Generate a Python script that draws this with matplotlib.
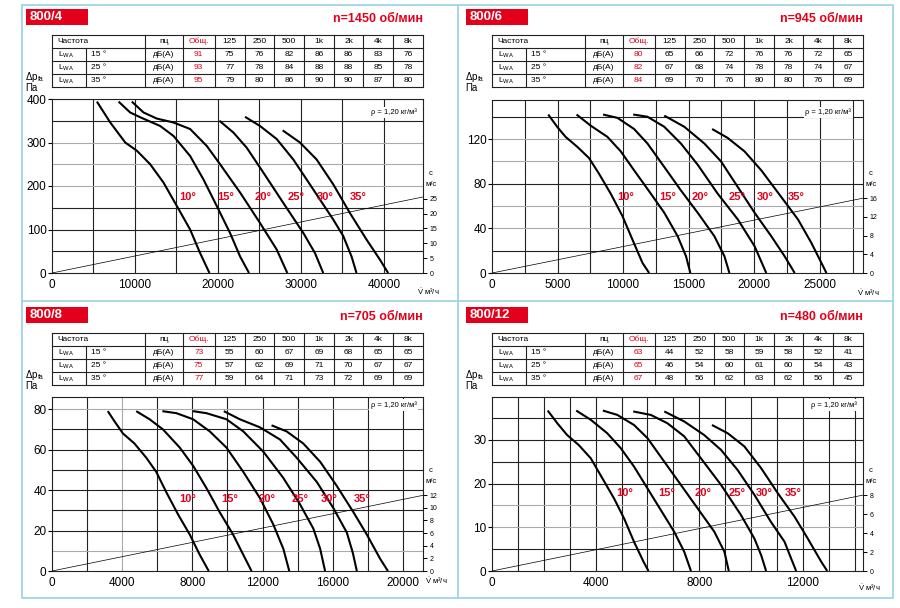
import numpy as np
import matplotlib
matplotlib.use('Agg')
import matplotlib.pyplot as plt
from matplotlib.lines import Line2D
from matplotlib.patches import Rectangle

plt.rcParams['font.family'] = ['Liberation Sans', 'DejaVu Sans']
plt.rcParams['mathtext.fontset'] = 'custom'
plt.rcParams['mathtext.rm'] = 'Liberation Sans'
plt.rcParams['mathtext.it'] = 'Liberation Sans:italic'
plt.rcParams['mathtext.bf'] = 'Liberation Sans:bold'

RED = '#e2001a'
BLUE = '#9fd6e6'
NARROW = ['Liberation Sans Narrow', 'Liberation Sans', 'DejaVu Sans']

# ---------------- данные ----------------
angles = ['10°', '15°', '20°', '25°', '30°', '35°']
bands = ['125', '250', '500', '1k', '2k', '4k', '8k']
row_angles = ['15 °', '25 °', '35 °']

# 800/4, n = 1450
lwa_800_4 = [91, 93, 95]
bands_800_4 = [[75, 76, 82, 86, 86, 83, 76],
               [77, 78, 84, 88, 88, 85, 78],
               [79, 80, 86, 90, 90, 87, 80]]
curves_800_4 = {
    '10°': ([5410, 7020, 8820, 10230, 11830, 13430, 15040, 16640, 17840, 18970],
            [394, 346, 300, 281, 250, 208, 154, 100, 46, 0]),
    '15°': ([8020, 9420, 10630, 13030, 14640, 16640, 18250, 19850, 21450, 22660, 23740],
            [394, 369, 358, 338, 315, 269, 215, 154, 92, 38, 0]),
    '20°': ([9620, 11030, 12630, 14640, 16640, 18650, 20250, 22660, 25060, 27070, 28350],
            [394, 369, 355, 346, 331, 292, 250, 185, 115, 54, 0]),
    '25°': ([20170, 21850, 23460, 25460, 27870, 30280, 31680, 32680],
            [350, 323, 288, 231, 161, 92, 46, 0]),
    '30°': ([23260, 25060, 27070, 29070, 31480, 33880, 35090, 36090, 36690],
            [359, 338, 308, 261, 192, 123, 85, 38, 0]),
    '35°': ([27790, 29870, 31880, 33880, 35890, 37890, 39500, 40500],
            [328, 300, 261, 204, 138, 77, 31, 0]),
}
label_v_800_4 = [16360, 20930, 25460, 29470, 32880, 36890]
label_p_800_4 = 175
vel_line_800_4 = ([0, 44700], [0, 25.6])

# 800/6, n = 945
lwa_800_6 = [80, 82, 84]
bands_800_6 = [[65, 66, 72, 76, 76, 72, 65],
               [67, 68, 74, 78, 78, 74, 67],
               [69, 70, 76, 80, 80, 76, 69]]
curves_800_6 = {
    '10°': ([4290, 4970, 5610, 6510, 7400, 8160, 9060, 9950, 10710, 11480, 11990],
            [142, 131, 122, 113, 103, 89, 71, 51, 30, 9, 0]),
    '15°': ([6450, 7530, 8800, 9820, 10840, 12120, 13140, 14160, 14800, 15130],
            [142, 132, 122, 109, 92, 71, 54, 33, 15, 0]),
    '20°': ([8470, 9570, 10840, 11860, 13140, 14410, 15690, 16960, 17730, 18110],
            [142, 139, 129, 116, 95, 74, 54, 33, 15, 0]),
    '25°': ([10770, 11860, 13140, 14410, 15690, 17220, 18750, 20030, 20920],
            [142, 140, 131, 116, 97, 71, 48, 24, 0]),
    '30°': ([13140, 14670, 16200, 17470, 18750, 20030, 21300, 22320, 23090],
            [141, 131, 116, 100, 77, 54, 33, 15, 0]),
    '35°': ([16790, 17980, 19260, 20540, 22070, 23340, 24360, 25130, 25510],
            [129, 121, 109, 92, 68, 48, 27, 9, 0]),
}
label_v_800_6 = [10200, 13390, 15890, 18700, 20840, 23210]
label_p_800_6 = 68
vel_line_800_6 = ([0, 28300], [0, 16.0])

# 800/8, n = 705
lwa_800_8 = [73, 75, 77]
bands_800_8 = [[55, 60, 67, 69, 68, 65, 65],
               [57, 62, 69, 71, 70, 67, 67],
               [59, 64, 71, 73, 72, 69, 69]]
curves_800_8 = {
    '10°': ([3180, 3560, 4040, 4700, 5370, 5940, 6510, 7180, 7850, 8420, 8930],
            [79, 74, 68, 63, 56, 49, 39, 28, 18, 8, 0]),
    '15°': ([4800, 5560, 6320, 7280, 8040, 8800, 9560, 10320, 10900, 11370],
            [79, 75, 70, 61, 52, 41, 29, 18, 8, 0]),
    '20°': ([6290, 7090, 8040, 8990, 9940, 10900, 11850, 12610, 13180, 13520],
            [79, 78, 75, 69, 61, 49, 36, 23, 11, 0]),
    '25°': ([8040, 8800, 9940, 10900, 12040, 13180, 14130, 14890, 15280, 15560],
            [79, 78, 75, 69, 59, 46, 33, 21, 11, 0]),
    '30°': ([9790, 10700, 11850, 12990, 13940, 15090, 16040, 16800, 17140, 17370],
            [79, 75, 71, 65, 56, 44, 31, 19, 9, 0]),
    '35°': ([12510, 13370, 14320, 15280, 16230, 17180, 17940, 18700, 19140],
            [72, 69, 63, 54, 42, 29, 18, 6, 0]),
}
label_v_800_8 = [7710, 10130, 12230, 14130, 15790, 17700]
label_p_800_8 = 35.5
vel_line_800_8 = ([0, 21140], [0, 11.95])

# 800/12, n = 480
lwa_800_12 = [63, 65, 67]
bands_800_12 = [[44, 52, 58, 59, 58, 52, 41],
                [46, 54, 60, 61, 60, 54, 43],
                [48, 56, 62, 63, 62, 56, 45]]
curves_800_12 = {
    '10°': ([2150, 2520, 2900, 3350, 3810, 4260, 4710, 5100, 5480, 5850, 6040],
            [36.7, 33.8, 31.1, 28.8, 25.8, 21.2, 16.6, 12.0, 6.7, 2.1, 0]),
    '15°': ([3250, 3810, 4450, 4970, 5480, 6000, 6520, 7030, 7420, 7680],
            [36.7, 34.6, 31.5, 28.1, 23.9, 18.9, 13.9, 9.0, 4.4, 0]),
    '20°': ([4280, 4840, 5480, 6000, 6650, 7290, 7940, 8580, 8970, 9140],
            [36.7, 35.7, 33.4, 30.4, 25.0, 19.7, 14.3, 9.0, 4.4, 0]),
    '25°': ([5450, 6130, 6770, 7420, 8060, 8840, 9610, 10130, 10390, 10580],
            [36.5, 35.7, 33.8, 30.8, 25.8, 19.7, 12.8, 7.4, 3.6, 0]),
    '30°': ([6650, 7420, 8190, 8840, 9480, 10130, 10770, 11290, 11550, 11740],
            [36.5, 34.2, 31.1, 27.7, 23.1, 17.4, 11.2, 6.7, 2.8, 0]),
    '35°': ([8490, 9100, 9740, 10390, 11030, 11680, 12190, 12710, 12940],
            [33.4, 31.5, 28.5, 23.5, 17.8, 12.4, 7.4, 2.1, 0]),
}
label_v_800_12 = [5140, 6750, 8150, 9450, 10520, 11640]
label_p_800_12 = 17.8
vel_line_800_12 = ([0, 14320], [0, 8.0])

# ---------------- оформление панелей ----------------
panels = [
    dict(name='800/4', speed='n=1450 об/мин', lwa=lwa_800_4, bands=bands_800_4,
         curves=curves_800_4, lab_v=label_v_800_4, lab_p=label_p_800_4, vline=vel_line_800_4,
         ox=0, oy=0, xmax=44700, ymax=400, xstep=10000, xgrid=5000, ystep=100, ygrid=50,
         light=[200, 250, 300, 400], lightx=[], kpa=6.83, vticks=[0, 5, 10, 15, 20, 25],
         rho_x=0.983, rho_y=0.922, top=99, bottom=273, vlab=(365, 19)),
    dict(name='800/6', speed='n=945 об/мин', lwa=lwa_800_6, bands=bands_800_6,
         curves=curves_800_6, lab_v=label_v_800_6, lab_p=label_p_800_6, vline=vel_line_800_6,
         ox=440, oy=0, xmax=28300, ymax=155, xstep=5000, xgrid=2500, ystep=40, ygrid=20,
         light=[40, 60, 100, 120], lightx=[], kpa=4.19, vticks=[0, 4, 8, 12, 16],
         rho_x=0.968, rho_y=0.927, top=100, bottom=273, vlab=(365, 20)),
    dict(name='800/8', speed='n=705 об/мин', lwa=lwa_800_8, bands=bands_800_8,
         curves=curves_800_8, lab_v=label_v_800_8, lab_p=label_p_800_8, vline=vel_line_800_8,
         ox=0, oy=298, xmax=21140, ymax=86, xstep=4000, xgrid=2000, ystep=20, ygrid=10,
         light=[10, 80], lightx=[4000], kpa=3.13, vticks=[0, 2, 4, 6, 8, 10, 12],
         rho_x=0.983, rho_y=0.954, top=397, bottom=571, vlab=(373, 10)),
    dict(name='800/12', speed='n=480 об/мин', lwa=lwa_800_12, bands=bands_800_12,
         curves=curves_800_12, lab_v=label_v_800_12, lab_p=label_p_800_12, vline=vel_line_800_12,
         ox=440, oy=298, xmax=14320, ymax=39.8, xstep=4000, xgrid=1000, ystep=10, ygrid=5,
         light=[10, 15], lightx=[], kpa=2.17, vticks=[0, 2, 4, 6, 8],
         rho_x=0.984, rho_y=0.954, top=397, bottom=571, vlab=(366, 17)),
]

W, H = 900, 608
fig = plt.figure(figsize=(9, 6.08), dpi=100)


def rect(l, t, r, b):
    return [l / W, 1 - b / H, (r - l) / W, (b - t) / H]


def fline(xs, ys, **kw):
    fig.add_artist(Line2D([x / W for x in xs], [1 - y / H for y in ys], **kw))


def ftext(x, y, s, **kw):
    fig.text(x / W, 1 - y / H, s, **kw)


# рамки
fline([22, 893, 893, 22, 22], [5, 5, 598, 598, 5], color=BLUE, lw=1.3)
fline([458, 458], [5, 598], color=BLUE, lw=1.3)
fline([22, 893], [301, 301], color=BLUE, lw=1.3)

col_edges = [0, 0.25, 0.352, 0.439] + [0.439 + 0.0801 * (i + 1) for i in range(7)]

for pn in panels:
    ox, oy = pn['ox'], pn['oy']
    L, R = 52 + ox, 423 + ox

    # заголовок
    fig.add_artist(Rectangle(((26 + ox) / W, 1 - (25 + oy) / H), 62 / W, 16 / H,
                             transform=fig.transFigure, color=RED, lw=0))
    ftext(30 + ox, 17.5 + oy, pn['name'], color='white', fontsize=9.5, fontweight='bold', va='center')
    ftext(R, 19 + oy, pn['speed'], color=RED, fontsize=9, fontweight='bold', va='center', ha='right')

    # таблица
    tax = fig.add_axes(rect(L, 35 + oy, R, 87 + oy))
    tax.set_xlim(0, 1)
    tax.set_ylim(4, 0)
    tax.axis('off')
    for r in range(5):
        tax.plot([0, 1], [r, r], color='#222', lw=0.8, clip_on=False)
    for c in col_edges:
        tax.plot([c, c], [0, 4], color='#222', lw=0.8, clip_on=False)
    tax.plot([0.091, 0.091], [1, 4], color='#222', lw=0.8)
    fs = 6
    tax.text(0.015, 0.5, 'Частота', fontsize=fs, va='center', family=NARROW)
    tax.text(0.301, 0.5, 'пц', fontsize=fs, va='center', ha='center', family=NARROW)
    tax.text(0.3955, 0.5, 'Общ.', fontsize=fs, va='center', ha='center', color=RED, family=NARROW)
    for i, b in enumerate(bands):
        tax.text((col_edges[3 + i] + col_edges[4 + i]) / 2, 0.5, b, fontsize=fs,
                 va='center', ha='center', family=NARROW)
    for r in range(3):
        y = r + 1.5
        tax.text(0.015, y, 'L$_\\mathregular{WA}$', fontsize=fs, va='center', family=NARROW)
        tax.text(0.104, y, row_angles[r], fontsize=fs, va='center', family=NARROW)
        tax.text(0.301, y, 'дБ(А)', fontsize=fs, va='center', ha='center', family=NARROW)
        tax.text(0.3955, y, str(pn['lwa'][r]), fontsize=fs, va='center', ha='center',
                 color=RED, family=NARROW)
        for i, v in enumerate(pn['bands'][r]):
            tax.text((col_edges[3 + i] + col_edges[4 + i]) / 2, y, str(v), fontsize=fs,
                     va='center', ha='center', family=NARROW)

    # подписи осей
    ftext(25 + ox, 77 + oy, 'Δp$_\\mathregular{fa}$', fontsize=7, va='center')
    ftext(25 + ox, 88 + oy, 'Па', fontsize=7, va='center')
    ftext(L + pn['vlab'][0], pn['bottom'] + pn['vlab'][1], '$\\dot{\\mathrm{V}}$ м³/ч',
          fontsize=5.5, va='center')

    # график
    ax = fig.add_axes(rect(L, pn['top'], R, pn['bottom']))
    ax.set_xlim(0, pn['xmax'])
    ax.set_ylim(0, pn['ymax'])
    for gx in np.arange(pn['xgrid'], pn['xmax'], pn['xgrid']):
        ax.axvline(gx, color='#aaaaaa' if gx in pn['lightx'] else '#222222', lw=0.8, zorder=0.5)
    for gy in np.arange(pn['ygrid'], pn['ymax'] + 0.01, pn['ygrid']):
        ax.axhline(gy, color='#aaaaaa' if gy in pn['light'] else '#222222', lw=0.8, zorder=0.5)
    ax.set_xticks(np.arange(0, pn['xmax'], pn['xstep']))
    ax.set_yticks(np.arange(0, pn['ymax'] + 0.01, pn['ystep']))
    ax.set_xticklabels([f'{int(v)}' for v in ax.get_xticks()])
    ax.set_yticklabels([f'{int(v)}' for v in ax.get_yticks()])
    ax.tick_params(axis='y', direction='out', length=3, width=0.8, labelsize=8.5, pad=1)
    ax.tick_params(axis='x', length=0, labelsize=8.5, pad=4)
    for s in ax.spines.values():
        s.set_linewidth(0.8)
        s.set_color('#222222')

    for name, (v, p) in pn['curves'].items():
        ax.plot(v, p, color='black', lw=1.5, solid_capstyle='butt', solid_joinstyle='round', zorder=3)
    for name, lv in zip(angles, pn['lab_v']):
        ax.text(lv, pn['lab_p'], name, color=RED, fontsize=8, fontweight='bold',
                ha='center', va='center', zorder=4)

    ax.text(pn['rho_x'], pn['rho_y'], 'ρ = 1,20 кг/м³', transform=ax.transAxes,
            ha='right', va='center', fontsize=5.5, zorder=4,
            bbox=dict(fc='white', ec='none', pad=1.2))

    # скорость
    ax2 = ax.twinx()
    ax2.set_ylim(0, pn['ymax'] / pn['kpa'])
    ax2.set_yticks(pn['vticks'])
    ax2.tick_params(axis='y', direction='out', length=3, width=0.7, labelsize=5, pad=2)
    for s in ax2.spines.values():
        s.set_visible(False)
    ax2.plot(pn['vline'][0], pn['vline'][1], color='black', lw=0.5, zorder=2)
    ctop = ax2.transData.transform((0, pn['vticks'][-1]))
    cy_px = H - fig.transFigure.inverted().transform(ctop)[1] * H
    ftext(R + 8, cy_px - 25, 'с', fontsize=5.5, ha='center', va='center')
    ftext(R + 8, cy_px - 14, 'м/с', fontsize=5.5, ha='center', va='center')

fig.savefig('out.png', dpi=100)
